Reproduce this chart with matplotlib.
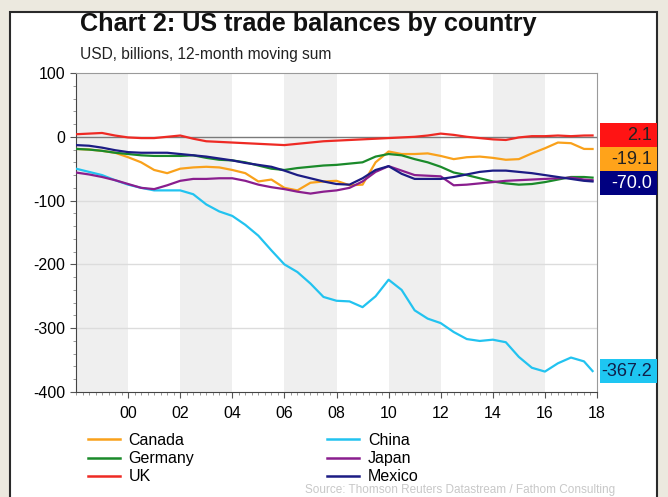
import numpy as np
import matplotlib
matplotlib.use("Agg")
import matplotlib.pyplot as plt
from matplotlib.patches import Rectangle
from matplotlib.lines import Line2D

plt.rcParams['font.family'] = ['Liberation Sans', 'DejaVu Sans']
plt.rcParams['axes.unicode_minus'] = False

# semi-annual readings, last point = latest month
years = list(np.arange(1998.0, 2017.6, 0.5)) + [2017.83]

canada = [-19, -20, -22, -25, -32, -40, -52, -57, -50, -48, -47, -48, -52, -57, -70, -67,
          -80, -84, -72, -70, -69, -76, -75, -40, -23, -27, -27, -26, -30, -35, -32, -31,
          -33, -36, -35, -26, -18, -9, -10, -19, -19.1]
china = [-50, -55, -60, -68, -75, -80, -84, -84, -84, -90, -106, -117, -124, -138, -155, -178,
         -200, -212, -230, -251, -257, -258, -267, -250, -224, -240, -272, -285, -292, -306, -317, -320,
         -318, -322, -345, -362, -368, -355, -346, -352, -367.2]
germany = [-19, -20, -22, -25, -27, -29, -30, -30, -30, -29, -33, -36, -37, -40, -45, -50,
           -52, -49, -47, -45, -44, -42, -40, -31, -27, -29, -35, -40, -47, -56, -60, -65,
           -70, -73, -75, -74, -71, -67, -63, -63, -64]
japan = [-56, -59, -63, -68, -74, -80, -82, -76, -69, -66, -66, -65, -65, -69, -75, -79,
         -82, -86, -89, -86, -84, -80, -70, -55, -46, -53, -60, -61, -62, -76, -75, -73,
         -71, -69, -68, -67, -66, -65, -64, -67, -68]
uk = [4, 5, 6, 2, -1, -2, -2, 0, 2, -3, -7, -8, -9, -10, -11, -12,
      -13, -11, -9, -7, -6, -5, -4, -3, -2, -1, 0, 2, 5, 3, 0, -2,
      -4, -5, -1, 1, 1, 2, 1, 2, 2.1]
mexico = [-13, -14, -17, -21, -24, -25, -25, -25, -27, -29, -31, -34, -37, -41, -44, -47,
          -53, -60, -65, -70, -74, -75, -65, -52, -46, -58, -66, -66, -66, -63, -59, -55,
          -53, -53, -55, -57, -60, -63, -66, -69, -70]

series = [("Canada", canada, "#f9a11b"), ("Germany", germany, "#1a8a2a"), ("UK", uk, "#ee2a24"),
          ("China", china, "#22c3f0"), ("Japan", japan, "#8a1e8e"), ("Mexico", mexico, "#1c1c84")]

# end-value boxes (name, box colour, text colour)
end_labels = [("UK", "#ff1414", "#222222"), ("Canada", "#ffa31a", "#222222"),
              ("Mexico", "#000080", "white"), ("China", "#1ec6f2", "#10204a")]

fig = plt.figure(figsize=(6.68, 4.97), dpi=100)
fig.patch.set_facecolor("#ece9df")
fig.patches.append(Rectangle((10/668, -0.05), 647/668, 1.05 - 12/497, transform=fig.transFigure,
                             facecolor="white", edgecolor="#2a2a2a", lw=1.5, zorder=-10))

ax = fig.add_axes([76/668, 1 - 392/497, 521/668, 319/497])
ax.set_xlim(1998, 2018)
ax.set_ylim(-400, 100)
ax.set_facecolor("white")

for s in range(1998, 2018, 4):
    ax.axvspan(s, s + 2, color="#efefef", lw=0, zorder=0)
for g in [-100, -200, -300]:
    ax.axhline(g, color="#dcdcdc", lw=1, zorder=1)
ax.axhline(0, color="#7a7a7a", lw=1, zorder=1)

data = {}
for name, vals, col in series:
    ax.plot(years, vals, color=col, lw=1.6, zorder=3)
    data[name] = (vals, col)

ax.set_xticks(range(2000, 2019, 2))
ax.set_xticklabels(["%02d" % (y % 100) for y in range(2000, 2019, 2)])
ax.set_xticks(np.arange(1998, 2018.01, 0.25), minor=True)
ax.set_yticks(range(-400, 101, 100))
ax.set_yticks(range(-400, 101, 20), minor=True)
ax.tick_params(axis="both", which="major", labelsize=11.5, direction="out", length=4, color="#555555")
ax.tick_params(axis="both", which="minor", direction="out", length=2, color="#888888")
ax.tick_params(axis="x", pad=6)
for sp in ax.spines.values():
    sp.set_color("#9a9a9a")
ax.spines["left"].set_color("#444444")
ax.spines["bottom"].set_color("#444444")

# value boxes on the right, pushed down so they don't overlap
box_h = 37.5
prev_bottom = None
tr = ax.get_yaxis_transform()
for name, bc, tc in end_labels:
    v = data[name][0][-1]
    c = v
    if prev_bottom is not None and c + box_h / 2 > prev_bottom:
        c = prev_bottom - box_h / 2
    prev_bottom = c - box_h / 2
    ax.add_patch(Rectangle((1.006, c - box_h / 2), 0.109, box_h, transform=tr,
                           facecolor=bc, edgecolor="none", clip_on=False, zorder=5))
    ax.text(1.106, c, "%.1f" % v, transform=tr, ha="right", va="center",
            fontsize=13, color=tc, clip_on=False, zorder=6)

handles = [Line2D([], [], color=col, lw=1.8) for _, _, col in series]
fig.legend(handles, [n for n, _, _ in series], ncol=2, loc="upper left",
           bbox_to_anchor=(80/668, 1 - 425/497), frameon=False, fontsize=11.5,
           handlelength=2.0, handletextpad=0.55, columnspacing=8.3, labelspacing=0.2,
           borderpad=0)

fig.text(80/668, 1 - 24/497, "Chart 2: US trade balances by country", fontsize=18.2,
         fontweight="bold", va="center", ha="left", color="#111111")
fig.text(80/668, 1 - 55/497, "USD, billions, 12-month moving sum", fontsize=11.2,
         va="center", ha="left", color="#222222")
fig.text(305/668, 0.5/497, "Source: Thomson Reuters Datastream / Fathom Consulting",
         fontsize=8.5, color="#c8c8c8", ha="left", va="bottom")

fig.savefig("out.png", dpi=100, facecolor=fig.get_facecolor())
